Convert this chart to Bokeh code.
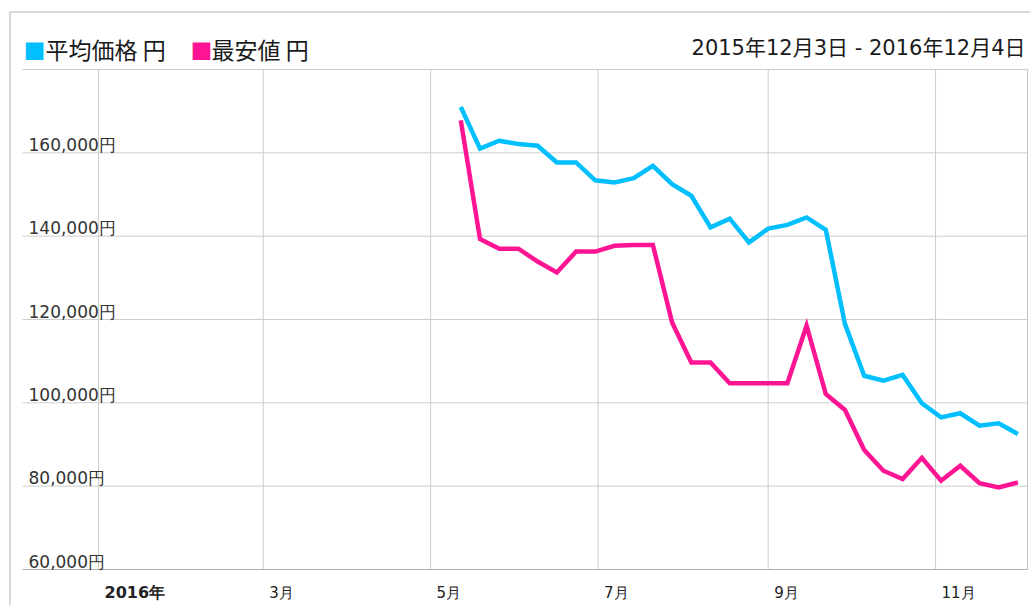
import pandas as pd
from bokeh.plotting import figure
from bokeh.models import Range1d, Label
from bokeh.embed import file_html
from bokeh.resources import INLINE

# ---------------- data ----------------
dates = ["2016-05-12", "2016-05-19", "2016-05-26", "2016-06-02", "2016-06-09",
         "2016-06-16", "2016-06-23", "2016-06-30", "2016-07-07", "2016-07-14",
         "2016-07-21", "2016-07-28", "2016-08-04", "2016-08-11", "2016-08-18",
         "2016-08-25", "2016-09-01", "2016-09-08", "2016-09-15", "2016-09-22",
         "2016-09-29", "2016-10-06", "2016-10-13", "2016-10-20", "2016-10-27",
         "2016-11-03", "2016-11-10", "2016-11-17", "2016-11-24", "2016-12-01"]
avg_price = [171000, 161000, 162900, 162100, 161700, 157700, 157700, 153400, 152900, 153900,
             156900, 152500, 149700, 142100, 144200, 138500, 141800, 142700, 144500, 141500,
             118900, 106500, 105300, 106700, 99900, 96500, 97500, 94500, 95100, 92500]
min_price = [167800, 139300, 137000, 137000, 133900, 131300, 136300, 136300, 137700, 137900,
             137900, 119300, 109700, 109700, 104700, 104700, 104700, 104700, 118500, 102100,
             98300, 88700, 83700, 81700, 86800, 81300, 84900, 80700, 79700, 80900]
series_names = ["平均価格 円", "最安値 円"]
series_colors = ["#00BFFF", "#FF1493"]
x_tick_dates = ["2016-01-01", "2016-03-01", "2016-05-01", "2016-07-01", "2016-09-01", "2016-11-01"]
x_tick_labels = ["2016年", "3月", "5月", "7月", "9月", "11月"]
y_ticks = [60000, 80000, 100000, 120000, 140000, 160000, 180000]
y_tick_labels = ["60,000円", "80,000円", "100,000円", "120,000円", "140,000円", "160,000円", ""]
date_range_text = "2015年12月3日 - 2016年12月4日"
x_start, x_end = "2015-12-04 07:00", "2016-12-04 12:00"
y_start, y_end = 60000, 180000


def ms(s):
    return pd.Timestamp(s).value / 1e6


xs = [ms(d) for d in dates]

# ---------------- layout (page pixels) ----------------
W, H = 1030, 605
PL, PR, PT, PB = 22, 1027, 69, 569          # plot area
x0, x1 = ms(x_start), ms(x_end)
kx = (PR - PL) / (x1 - x0)
ky = (PB - PT) / (y_end - y_start)


def X(px):
    return x0 + (px - PL) / kx


def Y(py):
    return y_start + (PB - py) / ky


LATIN_CJK = "'DejaVu Sans', 'Noto Sans CJK JP'"

p = figure(width=W, height=H, output_backend="svg", toolbar_location=None,
           x_axis_location=None, y_axis_location=None,
           x_range=Range1d(X(0), X(W)), y_range=Range1d(Y(H), Y(0)),
           min_border=0)
p.grid.visible = False
p.outline_line_color = None
p.background_fill_color = "white"
p.border_fill_color = "white"

# outer box (left and top edges visible)
p.segment(x0=[X(9.5), X(9.5)], y0=[Y(11.5), Y(11.5)], x1=[X(W + 5), X(9.5)], y1=[Y(11.5), Y(H + 5)],
          line_color="#b4b4b4", line_width=1)

# grid lines
xt = [ms(d) for d in x_tick_dates]
p.segment(x0=xt, y0=[y_start] * len(xt), x1=xt, y1=[y_end] * len(xt),
          line_color="#cdcdcd", line_width=1)
p.segment(x0=[x0] * len(y_ticks), y0=y_ticks, x1=[x1] * len(y_ticks), y1=y_ticks,
          line_color="#cdcdcd", line_width=1)
# right edge and bottom line of the plot area
p.segment(x0=[x1], y0=[y_start], x1=[x1], y1=[y_end], line_color="#c4c4c4", line_width=1)
p.segment(x0=[x0], y0=[y_start], x1=[x1], y1=[y_start], line_color="#b0b0b0", line_width=1)

for vals, col in zip([avg_price, min_price], series_colors):
    p.line(xs, vals, line_width=4.5, line_color=col, line_join="miter")

# y tick labels (inside the plot, sitting just above the grid lines)
for v, t in zip(y_ticks, y_tick_labels):
    if not t:
        continue
    p.add_layout(Label(x=X(28), y=v + 8 / ky, text=t,
                       text_font="DejaVu Sans", text_font_size="17px", text_color="#333333",
                       text_align="left", text_baseline="middle"))

# x tick labels
for i, (d, t) in enumerate(zip(x_tick_dates, x_tick_labels)):
    p.add_layout(Label(x=ms(d) + 6 / kx, y=Y(592), text=t,
                       text_font="DejaVu Sans", text_font_size="16px" if i == 0 else "15px",
                       text_color="#222222",
                       text_font_style="bold" if i == 0 else "normal",
                       text_align="left", text_baseline="middle"))

# legend
legend_pos = [(23, 45), (190, 211)]
for (qx, tx), name, col in zip(legend_pos, series_names, series_colors):
    p.add_layout(Label(x=X(qx), y=Y(48), text="■",
                       text_font="Noto Sans CJK JP", text_font_size="22px", text_color=col,
                       text_align="left", text_baseline="middle"))
    p.add_layout(Label(x=X(tx), y=Y(48), text=name,
                       text_font="Noto Sans CJK JP", text_font_size="23px", text_color="#1a1a1a",
                       text_align="left", text_baseline="middle"))

p.add_layout(Label(x=X(1025), y=Y(47), text=date_range_text,
                   text_font=LATIN_CJK, text_font_size="21px", text_color="#1a1a1a",
                   text_align="right", text_baseline="middle"))

open("out.html", "w").write(file_html(p, INLINE))
